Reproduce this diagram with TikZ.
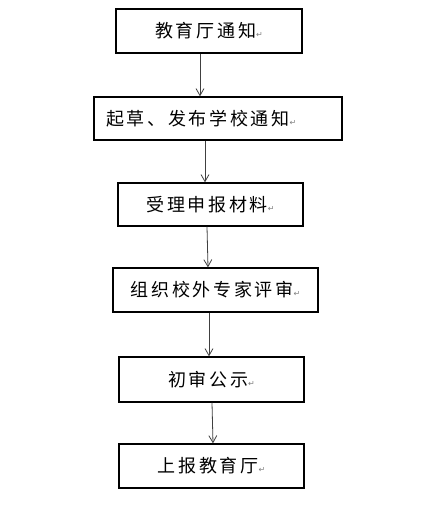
\documentclass[tikz,border=0pt]{standalone}
\usepackage{fontspec}
\usetikzlibrary{arrows.meta}
\newfontfamily\cjk[LetterSpace=15]{Noto Sans CJK SC}
\newfontfamily\markfont{DejaVu Sans}
\newcommand{\pmark}{{\markfont\fontsize{8}{8}\selectfont\color{gray}\char"21B5}}

\tikzstyle{stage} = [rectangle, draw, line width=1.3pt, 
    font=\cjk\fontsize{18}{20}\selectfont, inner sep=0pt, text centered]
\tikzstyle{flow} = [draw, line width=0.8pt, black!75,
    -{Straight Barb[length=7pt,width=8pt]}]

\begin{document}
\begin{tikzpicture}[x=1pt,y=-1pt]
	\useasboundingbox (0,0) rectangle (425,524);
	\node [stage, minimum width=186pt, minimum height=44pt] (tz) at (209,31) {教育厅通知\pmark};
	\node [stage, minimum width=248pt, minimum height=43pt, text width=224pt, align=left] (fb) at (218,118.5) {起草、发布学校通知\pmark};
	\node [stage, minimum width=185pt, minimum height=43pt] (sl) at (210.5,204.5) {受理申报材料\pmark};
	\node [stage, minimum width=205pt, minimum height=44pt] (ps) at (215.5,290) {组织校外专家评审\pmark};
	\node [stage, minimum width=185pt, minimum height=45pt] (gs) at (211.5,379.5) {初审公示\pmark};
	\node [stage, minimum width=185pt, minimum height=44pt] (sb) at (211.5,466) {上报教育厅\pmark};
	%
	\draw [flow] ([xshift=-9pt]tz.south) -- ([xshift=-9pt]tz.south |- fb.north);
	\draw [flow] ([xshift=-13pt]fb.south) -- ([xshift=-13pt]fb.south |- sl.north);
	\draw [flow] ([xshift=-3.5pt]sl.south) -- ([xshift=-2.5pt]sl.south |- ps.north);
	\draw [flow] ([xshift=-6.5pt]ps.south) -- ([xshift=-6.5pt]ps.south |- gs.north);
	\draw [flow] ([xshift=0.5pt]gs.south) -- ([xshift=1.5pt]gs.south |- sb.north);
\end{tikzpicture}
\end{document}
